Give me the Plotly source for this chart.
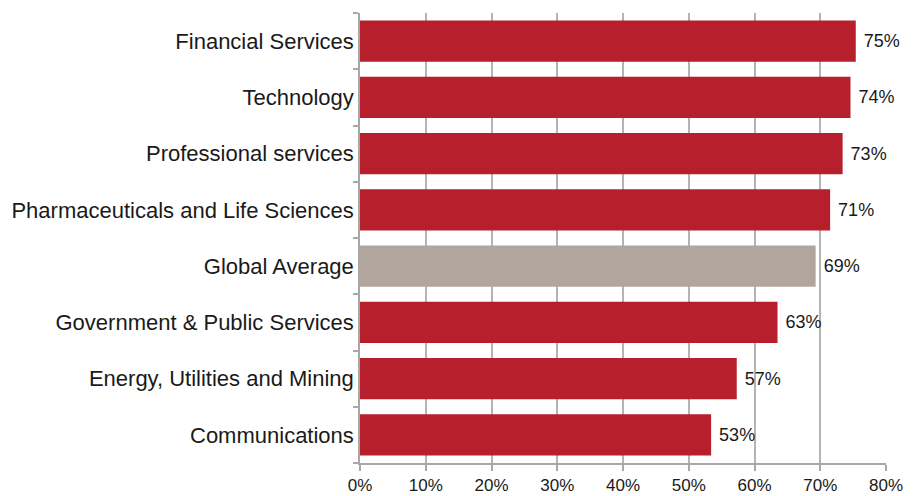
import plotly.graph_objects as go

categories = ["Financial Services", "Technology", "Professional services",
              "Pharmaceuticals and Life Sciences", "Global Average",
              "Government & Public Services", "Energy, Utilities and Mining",
              "Communications"]
values = [75.4, 74.6, 73.4, 71.5, 69.3, 63.5, 57.3, 53.4]
labels = ["75%", "74%", "73%", "71%", "69%", "63%", "57%", "53%"]
red = "#b71f2c"
grey = "#b0a69e"
colors = [grey if c == "Global Average" else red for c in categories]

fig = go.Figure(go.Bar(
    y=categories, x=values, orientation="h",
    marker=dict(color=colors, line=dict(width=0)),
    text=labels, texttemplate=" %{text}", textposition="outside", cliponaxis=False,
    textfont=dict(family="Liberation Sans, Arial, sans-serif", size=18, color="#1a1a1a"),
))

# page body has an 8px default margin, so the figure is 914x488
fig.update_layout(
    template="none",
    width=914, height=488,
    margin=dict(l=352, r=36, t=5, b=33, autoexpand=False),
    paper_bgcolor="white", plot_bgcolor="white",
    bargap=0.27,
    showlegend=False,
    font=dict(family="Liberation Sans, Arial, sans-serif", size=18, color="#1a1a1a"),
)
fig.update_xaxes(
    automargin=False,
    range=[0, 80], dtick=10, tick0=0, ticksuffix="%",
    showgrid=True, gridcolor="#b4b4b4", gridwidth=1.5,
    showline=True, linecolor="#a8a8a8", linewidth=1.5,
    ticks="outside", ticklen=6, tickcolor="#a8a8a8", tickwidth=1.5,
    tickfont=dict(size=17), zeroline=False, fixedrange=True,
)
fig.update_yaxes(
    automargin=False,
    categoryorder="array", categoryarray=categories[::-1],
    showline=True, linecolor="#a8a8a8", linewidth=1.5,
    ticks="outside", ticklen=5, tickcolor="#a8a8a8", tickwidth=1.5,
    tickson="boundaries", ticklabelstandoff=0,
    tickfont=dict(size=22), showgrid=False, zeroline=False,
)

fig.write_html("out.html")
